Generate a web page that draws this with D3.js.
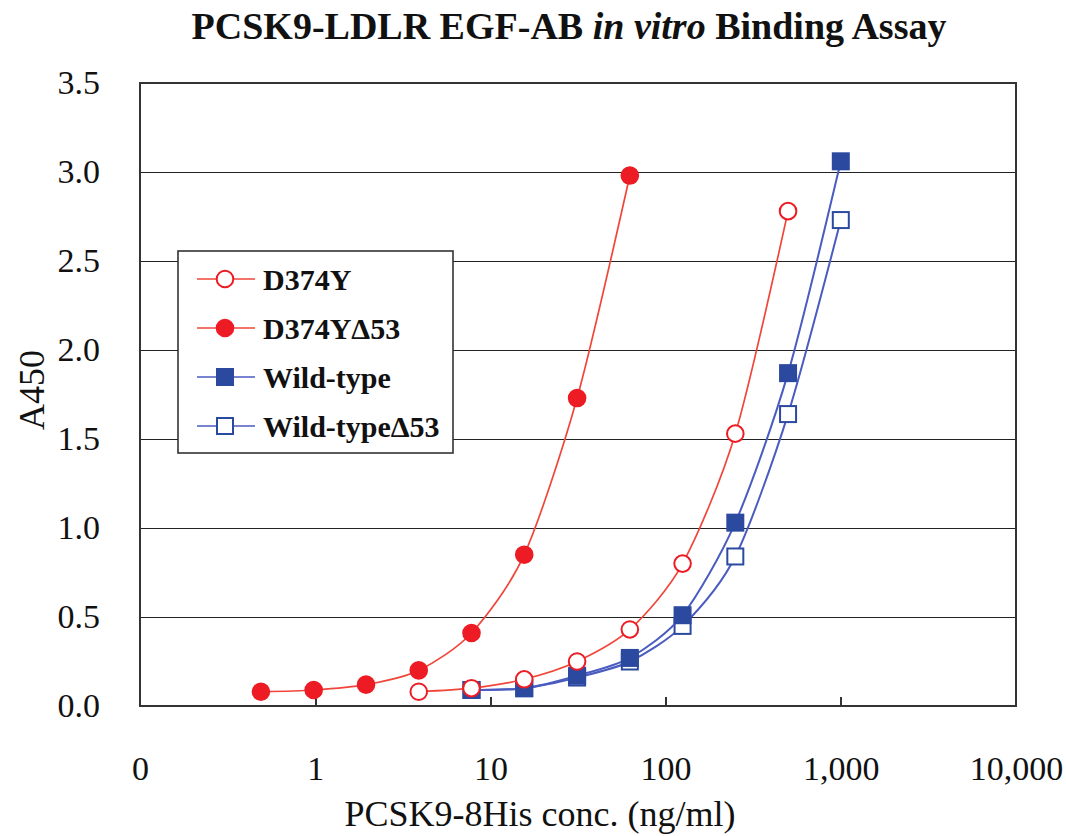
<!DOCTYPE html>
<html lang="en">
	<head>
		<meta charset="utf-8">
		<title>PCSK9-LDLR binding</title>
		<script type="text/javascript" src="https://cdn.jsdelivr.net/npm/d3@7/dist/d3.min.js"></script>
		<style type="text/css">
			body {
			  margin: 0;
			  background: #fff;
			  font-family: "Liberation Serif", "Times New Roman", serif;
			}
			.grid line {
			  stroke: #222;
			  stroke-width: 1.4px;
			  shape-rendering: crispEdges;
			}
			.grid path { display: none; }
			.axis path { display: none; }
			.axis line {
			  stroke: #333;
			  stroke-width: 1.6px;
			  shape-rendering: crispEdges;
			}
			.axis text {
			  font-family: "Liberation Serif", "Times New Roman", serif;
			  font-size: 34px;
			  fill: #111;
			}
		</style>
	</head>
	<body>
		<script type="text/javascript">

			var w = 1066,
			    h = 836,
			    plot_left = 140, plot_right = 1016,
			    plot_top = 83, plot_bottom = 706;

			// two-fold dilutions, ng/ml
			var conc_d374y_d53 = [0.49, 0.98, 1.95, 3.9, 7.8, 15.6, 31.25, 62.5];
			var conc_d374y     = [3.9, 7.8, 15.6, 31.25, 62.5, 125, 250, 500];
			var conc_wt        = [7.8, 15.6, 31.25, 62.5, 125, 250, 500, 1000];

			var a450_d374y     = [0.08, 0.10, 0.15, 0.25, 0.43, 0.80, 1.53, 2.78];
			var a450_d374y_d53 = [0.08, 0.09, 0.12, 0.20, 0.41, 0.85, 1.73, 2.98];
			var a450_wt        = [0.09, 0.10, 0.17, 0.27, 0.51, 1.03, 1.87, 3.06];
			var a450_wt_d53    = [0.09, 0.10, 0.16, 0.25, 0.45, 0.84, 1.64, 2.73];

			var series_names = ["D374Y", "D374Y\u039453", "Wild-type", "Wild-type\u039453"];
			var x_ticks = [0.1, 1, 10, 100, 1000, 10000];
			var x_tick_labels = ["0", "1", "10", "100", "1,000", "10,000"];
			var y_ticks = [0, 0.5, 1, 1.5, 2, 2.5, 3, 3.5];

			var red = "#ed1c24", red_line = "#f0463a",
			    blue = "#2b4a9f", blue_line = "#4a5cc0";

			var series = [
				{name: series_names[0], x: conc_d374y, y: a450_d374y, shape: "circle", filled: false, color: red, line: red_line},
				{name: series_names[1], x: conc_d374y_d53, y: a450_d374y_d53, shape: "circle", filled: true, color: red, line: red_line},
				{name: series_names[2], x: conc_wt, y: a450_wt, shape: "square", filled: true, color: blue, line: blue_line},
				{name: series_names[3], x: conc_wt, y: a450_wt_d53, shape: "square", filled: false, color: blue, line: blue_line}
			];

			var xScale = d3.scaleLog().domain([0.1, 10000]).range([plot_left, plot_right]);
			var yScale = d3.scaleLinear().domain([0, 3.5]).range([plot_bottom, plot_top]);

			var svg = d3.select("body")
			            .append("svg")
			            .attr("width", w)
			            .attr("height", h);

			// horizontal gridlines
			svg.append("g")
			   .attr("class", "grid")
			   .attr("transform", "translate(" + plot_left + ",0)")
			   .call(d3.axisLeft(yScale).tickValues(y_ticks).tickSize(-(plot_right - plot_left)).tickFormat(""));

			// y axis labels
			svg.append("g")
			   .attr("class", "axis")
			   .attr("transform", "translate(" + plot_left + ",0)")
			   .call(d3.axisLeft(yScale).tickValues(y_ticks).tickSize(0).tickPadding(40).tickFormat(d3.format(".1f")));

			// x axis: ticks point inwards
			svg.append("g")
			   .attr("class", "axis")
			   .attr("transform", "translate(0," + plot_bottom + ")")
			   .call(d3.axisBottom(xScale).tickValues(x_ticks).tickSize(-9).tickPadding(50)
			           .tickFormat(function(d, i) { return x_tick_labels[i]; }));

			// plot frame
			svg.append("rect")
			   .attr("x", plot_left)
			   .attr("y", plot_top)
			   .attr("width", plot_right - plot_left)
			   .attr("height", plot_bottom - plot_top)
			   .attr("fill", "none")
			   .attr("stroke", "#333")
			   .attr("stroke-width", 2);

			var line = d3.line()
			             .x(function(d) { return xScale(d[0]); })
			             .y(function(d) { return yScale(d[1]); })
			             .curve(d3.curveCardinal.tension(0.2));

			function draw_marker(g, s, cx, cy) {
				var fill = s.filled ? s.color : "#fff";
				if (s.shape == "circle") {
					g.append("circle")
					 .attr("cx", cx).attr("cy", cy)
					 .attr("r", 8.3)
					 .attr("fill", fill)
					 .attr("stroke", s.color)
					 .attr("stroke-width", 2);
				} else {
					var a = 16;
					g.append("rect")
					 .attr("x", cx - a / 2).attr("y", cy - a / 2)
					 .attr("width", a).attr("height", a)
					 .attr("fill", fill)
					 .attr("stroke", s.color)
					 .attr("stroke-width", 2);
				}
			}

			// draw from back to front
			[3, 2, 0, 1].forEach(function(k) {
				var s = series[k];
				var pts = s.x.map(function(c, i) { return [c, s.y[i]]; });
				var g = svg.append("g");
				g.append("path")
				 .attr("d", line(pts))
				 .attr("fill", "none")
				 .attr("stroke", s.line)
				 .attr("stroke-width", s.shape == "square" ? 2 : 1.7);
				pts.forEach(function(p) {
					draw_marker(g, s, xScale(p[0]), yScale(p[1]));
				});
			});

			// legend
			var legend = svg.append("g");
			legend.append("rect")
			      .attr("x", 178).attr("y", 251)
			      .attr("width", 275).attr("height", 202)
			      .attr("fill", "#fff")
			      .attr("stroke", "#333")
			      .attr("stroke-width", 1.6);

			series.forEach(function(s, i) {
				var cy = 279 + i * 49;
				legend.append("line")
				      .attr("x1", 197).attr("x2", 255)
				      .attr("y1", cy).attr("y2", cy)
				      .attr("stroke", s.line)
				      .attr("stroke-width", 1.6);
				draw_marker(legend, s, 225, cy);
				legend.append("text")
				      .attr("x", 263)
				      .attr("y", cy)
				      .attr("dy", "0.35em")
				      .attr("font-size", "30px")
				      .attr("font-weight", "bold")
				      .attr("fill", "#111")
				      .text(s.name);
			});

			// title
			var title = svg.append("text")
			               .attr("x", 569)
			               .attr("y", 39)
			               .attr("text-anchor", "middle")
			               .attr("font-size", "38px")
			               .attr("font-weight", "bold")
			               .attr("fill", "#111");
			title.append("tspan").text("PCSK9-LDLR EGF-AB ");
			title.append("tspan").attr("font-style", "italic").text("in vitro");
			title.append("tspan").text(" Binding Assay");

			// axis titles
			svg.append("text")
			   .text("PCSK9-8His conc. (ng/ml)")
			   .attr("x", 540)
			   .attr("y", 826)
			   .attr("text-anchor", "middle")
			   .attr("font-size", "36px")
			   .attr("fill", "#111");

			svg.append("text")
			   .text("A450")
			   .attr("transform", "translate(" + 44 + "," + 390 + ") rotate(-90)")
			   .attr("text-anchor", "middle")
			   .attr("font-size", "36px")
			   .attr("fill", "#111");

		</script>
	</body>
</html>
